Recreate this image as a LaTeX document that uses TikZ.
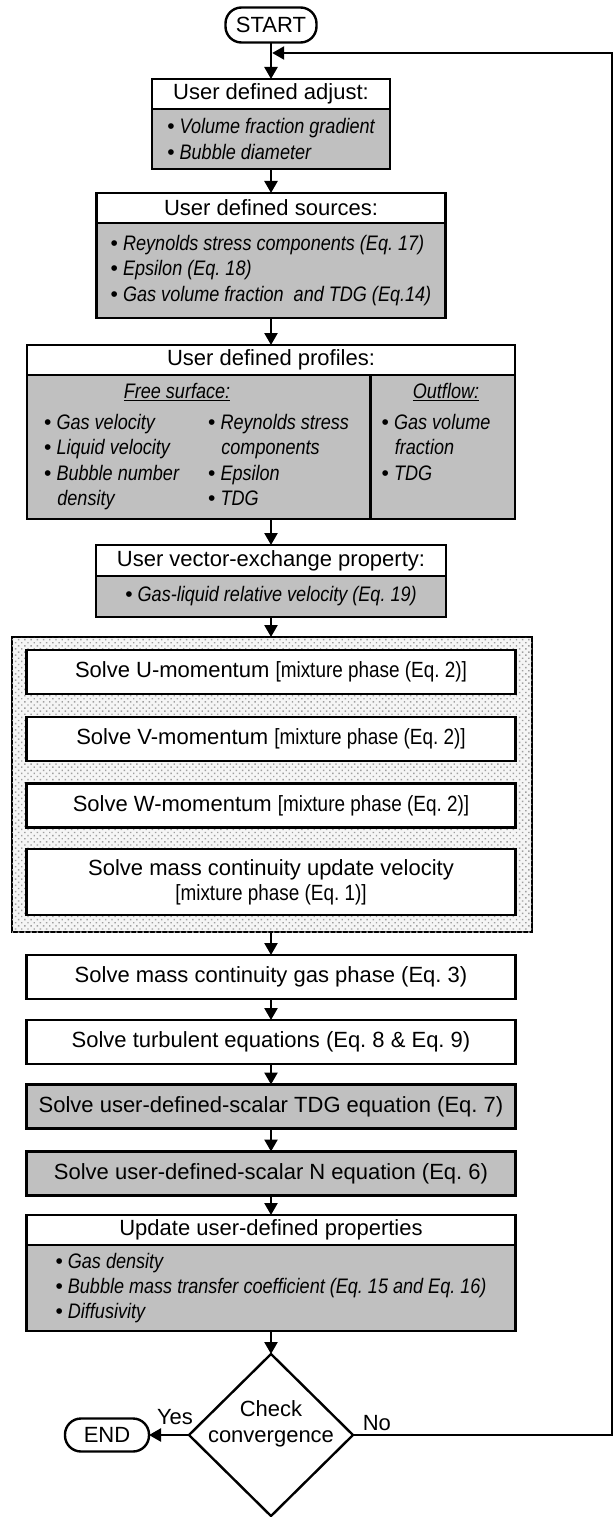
\documentclass[tikz,border=0pt]{standalone}
\usepackage{fontspec}
\setmainfont{Liberation Sans}
\newfontfamily\narrowfont{Liberation Sans}[FakeStretch=0.86]
\usetikzlibrary{positioning,shapes.geometric,arrows.meta,patterns.meta}
\frenchspacing

\definecolor{boxgray}{RGB}{192,192,192}
\newcommand{\mainsize}{\fontsize{22}{26}\selectfont}
\newcommand{\listsize}{\narrowfont\itshape\fontsize{21}{25.4}\selectfont}
\newcommand{\phasenote}[1]{{\narrowfont\fontsize{22}{25}\selectfont #1}}
\newcommand{\bulit}{{\normalfont\textbullet}\ }
\newcommand{\bindent}{\phantom{\normalfont\textbullet\ }}

\begin{document}
\begin{tikzpicture}[x=1pt,y=1pt,yscale=-1,
	headbox/.style={draw, fill=white, line width=2.4pt, outer sep=0pt, inner sep=0pt, minimum height=30pt, font=\mainsize},
	listbox/.style={draw, fill=boxgray, line width=2.4pt, outer sep=0pt, inner sep=0pt, font=\listsize, align=left},
	listtext/.style={inner sep=0pt, font=\listsize, align=left},
	stepbox/.style={draw, fill=white, line width=2.4pt, outer sep=0pt, inner sep=0pt, minimum width=489pt, minimum height=44pt, font=\mainsize, align=center},
	terminal/.style={draw, fill=white, line width=2.4pt, outer sep=0pt, rounded corners=16pt, inner sep=0pt, font=\mainsize},
	decision/.style={diamond, draw, fill=white, line width=2.4pt, outer sep=0pt, inner sep=0pt, minimum width=164pt, minimum height=162pt},
	flowarrow/.style={line width=2.4pt, -{Triangle[width=13pt,length=12pt]}}]
	%uncomment if require: \path (0,1517); %set diagram height
	\path[use as bounding box, fill=white] (0,0) rectangle (615,1517);
	
	%Shape: Rounded Rectangle
	\node[terminal, minimum width=91pt, minimum height=35pt] (start) at (271,25) {START};
	
	%Shape: Rectangle
	\node[headbox, minimum width=238pt] (adjhead) at (271,94) {User defined adjust:};
	\node[listbox, minimum width=238pt, minimum height=60pt, below=0pt of adjhead] (adjbody)
		{\bulit Volume fraction gradient\\ \bulit Bubble diameter};
	
	%Shape: Rectangle
	\node[headbox, minimum width=349pt] (srchead) at (271,208) {User defined sources:};
	\node[listbox, minimum width=349pt, minimum height=95pt, below=0pt of srchead] (srcbody)
		{\bulit Reynolds stress components (Eq. 17)\\ \bulit Epsilon (Eq. 18)\\ \bulit Gas volume fraction~ and TDG (Eq.14)};
	
	%Shape: Rectangle
	\node[headbox, minimum width=488pt] (profhead) at (271,360) {User defined profiles:};
	\node[listbox, minimum width=343.5pt, minimum height=144pt, anchor=north west] (freebody) at (profhead.south west) {};
	\node[listbox, minimum width=144.5pt, minimum height=144pt, anchor=north west] (outbody) at (freebody.north east) {};
	% Text Node (base = last line)
	\node[listtext, anchor=base] (freetitle) at (177,398.5) {\underline{Free surface:}};
	\node[listtext, anchor=base west] (freecola) at (44,505.7)
		{\bulit Gas velocity\\ \bulit Liquid velocity\\ \bulit Bubble number\\ \bindent density};
	\node[listtext, anchor=base west] (freecolb) at (208,505.7)
		{\bulit Reynolds stress\\ \bindent components\\ \bulit Epsilon\\ \bulit TDG};
	% Text Node
	\node[listtext, anchor=base] (outtitle) at (446,398.5) {\underline{Outflow:}};
	\node[listtext, anchor=base west] (outcol) at (381.5,480.3)
		{\bulit Gas volume\\ \bindent fraction\\ \bulit TDG};
	
	%Shape: Rectangle
	\node[headbox, minimum width=350pt, minimum height=31pt] (vechead) at (271,560.5) {User vector-exchange property:};
	\node[listbox, minimum width=350pt, minimum height=41pt, align=center, below=0pt of vechead] (vecbody)
		{\bulit Gas-liquid relative velocity (Eq. 19)};
	
	%Shape: Rectangle (dotted group)
	\node[draw, line width=2.6pt, outer sep=0pt, fill=gray!8, postaction={pattern={Dots[distance=4.4pt, radius=1pt, angle=45]}, pattern color=gray!75},
		minimum width=520pt, minimum height=295pt] (solvebox) at (272,784.5) {};
	\node[stepbox] (umom) at (271,672) {Solve U-momentum \phasenote{[mixture phase (Eq. 2)]}};
	\node[stepbox] (vmom) at (271,739) {Solve V-momentum \phasenote{[mixture phase (Eq. 2)]}};
	\node[stepbox] (wmom) at (271,805.5) {Solve W-momentum \phasenote{[mixture phase (Eq. 2)]}};
	\node[stepbox, minimum height=66pt] (masscont) at (271,882)
		{Solve mass continuity update velocity\\[-1pt] \phasenote{[mixture phase (Eq. 1)]}};
	
	%Shape: Rectangle
	\node[stepbox] (massgas) at (271,977) {Solve mass continuity gas phase (Eq. 3)};
	\node[stepbox] (turb) at (271,1042) {Solve turbulent equations (Eq. 8 \& Eq. 9)};
	\node[stepbox, fill=boxgray] (tdgeq) at (271,1106.5) {Solve user-defined-scalar TDG equation (Eq. 7)};
	\node[stepbox, fill=boxgray] (neq) at (271,1173.5) {Solve user-defined-scalar N equation (Eq. 6)};
	
	%Shape: Rectangle
	\node[headbox, minimum width=489pt] (updhead) at (271,1230) {Update user-defined properties};
	\node[listbox, minimum width=489pt, minimum height=86pt, below=0pt of updhead] (updbody)
		{\bulit Gas density\\ \bulit Bubble mass transfer coefficient (Eq. 15 and Eq. 16)\\ \bulit Diffusivity};
	
	%Shape: Diamond
	\node[decision, label={[align=center, font=\mainsize, yshift=11pt]center:Check\\convergence}] (check) at (271,1435) {};
	%Shape: Rounded Rectangle
	\node[terminal, minimum width=84pt, minimum height=33pt] (finish) at (107,1435) {END};
	
	%Straight Lines
	\coordinate (looptop) at (612,53);
	\coordinate (loopin) at ([xshift=1.2pt]start.south |- looptop);
	\draw[flowarrow] (start) -- (adjhead);
	\draw[flowarrow] (adjbody) -- (srchead);
	\draw[flowarrow] (srcbody) -- (profhead);
	\draw[flowarrow] (vechead.north |- freebody.south) -- (vechead);
	\draw[flowarrow] (vecbody) -- (solvebox.north -| vecbody.south);
	\draw[flowarrow] (solvebox.south -| massgas.north) -- (massgas);
	\draw[flowarrow] (massgas) -- (turb);
	\draw[flowarrow] (turb) -- (tdgeq);
	\draw[flowarrow] (tdgeq) -- (neq);
	\draw[flowarrow] (neq) -- (updhead);
	\draw[flowarrow] (updbody) -- (check);
	\draw[flowarrow] (check) -- node[pos=0.35, above=6pt, font=\mainsize] {Yes} (finish);
	\draw[flowarrow] (check.east) -| node[pos=0.046, above, font=\mainsize] {No} (looptop) -- (loopin);
\end{tikzpicture}
\end{document}
